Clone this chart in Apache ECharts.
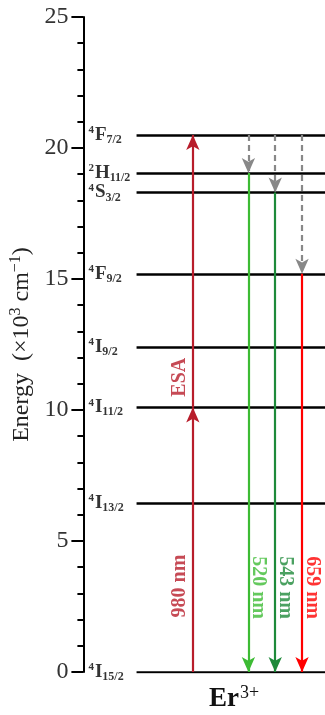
<!DOCTYPE html>
<html><head><meta charset="utf-8">
<script src="https://cdn.jsdelivr.net/npm/echarts@6/dist/echarts.min.js"></script>
<style>html,body{margin:0;padding:0;background:#fff}#c{width:325px;height:715px}</style>
</head><body><div id="c"></div>
<script>
// ---- data ----
var levelNames = ['4I15/2','4I13/2','4I11/2','4I9/2','4F9/2','4S3/2','2H11/2','4F7/2'];
var levelEnergies = [0, 6.45, 10.1, 12.4, 15.2, 18.3, 19.05, 20.5];
var yTicks = [0, 5, 10, 15, 20, 25];
// excitation (ESA) steps: from -> to
var excitationSteps = [[0, 10.1], [10.1, 20.5]];
var excitationLabel = '980 nm';
var esaLabel = 'ESA';
// emissions: label, upper level energy
var emissionLabels = ['520 nm', '543 nm', '659 nm'];
var emissionFrom = [19.05, 18.3, 15.2];
var emissionTo = [0, 0, 0];
var relaxFrom = [20.5, 20.5, 20.5];
var ionLabel = 'Er';
var ionCharge = '3+';

// ---- layout / style (not data) ----
var XMAX = 10, XSTART = 2.2;
var excX = 4.53;
var emX = [6.83, 7.94, 9.05];
var emColors = ['#3dbb34', '#1e8a3a', '#ff0000'];
var excColor = '#b81d2b';
var serif = '"Liberation Serif", "DejaVu Serif", serif';
var ARROW = [0, [10, 15]];

function levelRich(name) {
  var sup = name.charAt(0), main = name.charAt(1), sub = name.slice(2);
  return '{sup|' + sup + '}{main|' + main + '}{sub|' + sub + '}';
}

var series = [];
// level lines
series.push({
  type: 'lines', coordinateSystem: 'cartesian2d', silent: true, z: 2,
  lineStyle: { color: '#000', width: 2.5, opacity: 1 },
  data: levelEnergies.map(function (e) { return { coords: [[XSTART, e], [XMAX, e]] }; })
});
// level labels
series.push({
  type: 'scatter', symbolSize: 0, silent: true, z: 3,
  data: levelEnergies.map(function (e, i) { return { value: [0, e], name: levelNames[i] }; }),
  label: {
    show: true, position: 'right', distance: 0, offset: [5, 0],
    formatter: function (p) { return levelRich(p.name); },
    rich: {
      sup: { fontFamily: serif, fontWeight: 'bold', fontSize: 11, color: '#000', padding: [0, 1, 9, 0] },
      main: { fontFamily: serif, fontWeight: 'bold', fontSize: 19, color: '#000' },
      sub: { fontFamily: serif, fontWeight: 'bold', fontSize: 12, color: '#000', padding: [10, 0, 0, 0] }
    }
  }
});
// excitation arrows
series.push({
  type: 'lines', coordinateSystem: 'cartesian2d', silent: true, z: 4,
  symbol: ['none', 'arrow'], symbolSize: ARROW,
  lineStyle: { color: excColor, width: 2.2, opacity: 1 },
  data: excitationSteps.map(function (s) { return { coords: [[excX, s[0]], [excX, s[1]]] }; })
});
// relaxation dashed arrows
series.push({
  type: 'lines', coordinateSystem: 'cartesian2d', silent: true, z: 4,
  symbol: ['none', 'arrow'], symbolSize: ARROW,
  lineStyle: { color: '#888', width: 2.2, type: [6, 4], opacity: 1 },
  data: relaxFrom.map(function (f, i) { return { coords: [[emX[i], f], [emX[i], emissionFrom[i]]] }; })
});
// emission arrows
series.push({
  type: 'lines', coordinateSystem: 'cartesian2d', silent: true, z: 4,
  symbol: ['none', 'arrow'], symbolSize: ARROW,
  data: emissionFrom.map(function (f, i) {
    return { coords: [[emX[i], f], [emX[i], emissionTo[i]]], lineStyle: { color: emColors[i], width: 2.2, opacity: 1 } };
  })
});
// transition labels (offset is in the rotated text frame)
var tl = [];
tl.push({ value: [excX, 3.28], label: { formatter: excitationLabel, color: excColor, rotate: 90, offset: [0, -13] } });
tl.push({ value: [excX, 11.25], label: { formatter: esaLabel, color: excColor, rotate: 90, offset: [0, -13] } });
emissionLabels.forEach(function (t, i) {
  tl.push({ value: [emX[i], 3.22], label: { formatter: t, color: emColors[i], rotate: -90, offset: [0, -10] } });
});
series.push({
  type: 'scatter', symbolSize: 0, silent: true, z: 5, data: tl,
  label: { show: true, position: 'inside', fontFamily: serif, fontWeight: 'bold', fontSize: 20 }
});

var chart = echarts.init(document.getElementById('c'), null, { renderer: 'canvas' });
chart.setOption({
  animation: false,
  backgroundColor: '#fff',
  title: {
    text: ionLabel + '{sup|' + ionCharge + '}',
    left: 204, top: 679,
    textStyle: {
      fontFamily: serif, fontWeight: 'bold', fontSize: 27, color: '#111',
      rich: { sup: { fontFamily: serif, fontWeight: 'normal', fontSize: 18, color: '#111', padding: [0, 0, 13, 1] } }
    }
  },
  grid: { left: 82, right: 0, top: 17, bottom: 43 },
  xAxis: { type: 'value', min: 0, max: XMAX, show: false },
  yAxis: {
    type: 'value', min: yTicks[0], max: yTicks[yTicks.length - 1], interval: yTicks[1] - yTicks[0],
    name: 'Energy  (×10{sup|3} cm{sup|−1})', nameLocation: 'middle', nameGap: 44, nameRotate: 90,
    nameTextStyle: {
      fontFamily: serif, fontSize: 24, color: '#222',
      rich: { sup: { fontFamily: serif, fontSize: 16, color: '#222', padding: [0, 0, 11, 0] } }
    },
    axisLine: { show: true, lineStyle: { color: '#000', width: 2 } },
    axisTick: { show: true, length: 12, lineStyle: { color: '#000', width: 2 } },
    minorTick: { show: true, splitNumber: 5, length: 6, lineStyle: { color: '#000', width: 2 } },
    splitLine: { show: false },
    axisLabel: { fontFamily: serif, fontSize: 24, color: '#333', margin: 15 }
  },
  series: series
});
</script></body></html>
